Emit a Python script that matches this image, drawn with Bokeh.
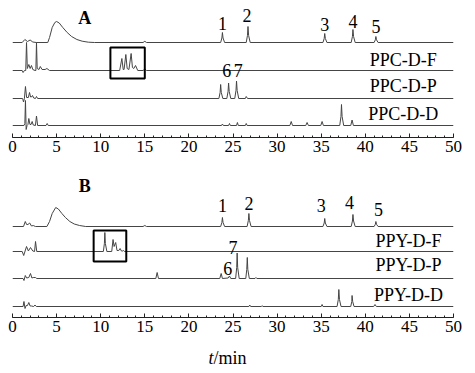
from bokeh.plotting import figure
from bokeh.layouts import column
from bokeh.models import Range1d, FixedTicker
from bokeh.core.properties import value
from bokeh.embed import file_html
from bokeh.resources import INLINE

FONT = "Liberation Serif"
LINE = "#454545"

major_ticks = [0, 5, 10, 15, 20, 25, 30, 35, 40, 45, 50]
minor_ticks = list(range(0, 51))

# ---------------- Panel A (PPC) : retention time (min) / relative signal ----------------
a_std_t = [0, 1.1, 1.4, 1.7, 2.0, 2.3, 2.7, 4.0, 4.2, 4.5, 4.8, 5.0, 5.3, 5.7, 6.2, 6.7, 7.3, 7.9, 8.6, 9.3,
           14.8, 15.0, 15.2, 23.6, 23.74, 23.8, 23.87, 24.05, 26.5, 26.64, 26.7, 26.77, 26.95,
           35.2, 35.34, 35.4, 35.47, 35.65, 38.4, 38.54, 38.6, 38.67, 38.85, 41.0, 41.14, 41.2, 41.27, 41.45, 50]
a_std_y = [0, 0, 3, 1, 2.5, 0.5, 0, 0, 5, 15, 20, 21, 19.5, 15, 10, 6, 3, 1.3, 0.3, 0,
           0, 1.2, 0, 0, 4.5, 10, 4.5, 0, 0, 7, 16, 7, 0,
           0, 4, 9, 4, 0, 0, 6, 13, 6, 0, 0, 2.7, 6, 2.7, 0, 0]

a_f_t = [0, 1.1, 1.2, 1.35, 1.5, 1.59, 1.68, 1.85, 2.0, 2.15, 2.3, 2.55, 2.65, 2.72, 2.8,
         3.0, 3.15, 3.35, 3.7, 3.9, 4.2, 12.15, 12.4, 12.55, 12.65, 12.85, 13.0, 13.2, 13.45, 13.6,
         13.75, 13.95, 14.2, 14.8, 15.0, 15.2, 50]
a_f_y = [0, 0, -2, 0, 0, 28, 2, 6, 2, 5, 1, 0, 0, 28, 2,
         1, 4, 1, 1, 2, 0, 0, 12, 1, 1, 16, 2, 1, 17, 3,
         2, 5, 0, 0, 1.5, 0, 0]

a_p_t = [0, 1.15, 1.25, 1.35, 1.47, 1.6, 1.8, 1.93, 2.05, 2.15, 2.27, 2.4, 2.6, 2.72, 2.85,
         23.4, 23.54, 23.6, 23.67, 23.85, 24.3, 24.44, 24.5, 24.57, 24.75, 25.2, 25.34, 25.4, 25.47, 25.65,
         26.4, 26.5, 26.65, 50]
a_p_y = [0, 0, -3.5, 0, 12, 1, 1, 6, 1.5, 1.5, 3, 0.5, 0, 2, 0,
         0, 6, 14, 6, 0, 0, 7, 15.5, 7, 0, 0, 8, 17.5, 8, 0,
         0, 2, 0, 0]

a_d_t = [0, 1.3, 1.4, 1.47, 1.55, 1.65, 1.75, 1.85, 1.98, 2.1, 2.23, 2.35, 2.6, 2.72, 2.85,
         3.8, 3.93, 4.05, 23.7, 23.8, 23.9, 24.5, 24.6, 24.7, 25.4, 25.5, 25.6, 26.4, 26.5, 26.6,
         31.45, 31.6, 31.75, 33.25, 33.4, 33.55, 34.95, 35.1, 35.25,
         37.1, 37.24, 37.3, 37.37, 37.55, 38.35, 38.5, 38.65, 50]
a_d_y = [0, 0, 2, 25, -4, 0, 1, 7, 1, 1, 4, 0.5, 0, 9.5, 0,
         0, 2, 0, 0, 1.5, 0, 0, 2, 0, 0, 3, 0, 0, 2, 0,
         0, 4, 0, 0, 3, 0, 0, 4, 0,
         0, 9, 21, 9, 0, 0, 5.5, 0, 0]

# ---------------- Panel B (PPY) ----------------
b_std_t = [0, 1.25, 1.45, 1.6, 1.75, 1.95, 2.15, 2.35, 2.6, 3.9, 4.2, 4.5, 4.9, 5.2, 5.6, 6.0, 6.5, 7.0, 7.6, 8.3,
           14.8, 15.0, 15.2, 23.6, 23.74, 23.8, 23.87, 24.05, 26.6, 26.74, 26.8, 26.87, 27.05,
           35.2, 35.34, 35.4, 35.47, 35.65, 38.4, 38.54, 38.6, 38.67, 38.85, 41.0, 41.14, 41.2, 41.27, 41.45, 50]
b_std_y = [0, 0, 5, 2, 2, 3.5, 0.5, 1, 0, 0, 5, 13, 19, 17.5, 13, 9, 5, 2.5, 1, 0,
           0, 1, 0, 0, 4, 9, 4, 0, 0, 6, 13, 6, 0,
           0, 3.5, 8, 3.5, 0, 0, 5.5, 12, 5.5, 0, 0, 2.2, 5, 2.2, 0, 0]

b_f_t = [0, 1.1, 1.27, 1.59, 1.8, 2.04, 2.3, 2.5, 2.61, 2.75,
         10.3, 10.42, 10.47, 10.53, 10.7, 11.25, 11.4, 11.52, 11.7, 11.85, 12.05, 12.2, 12.35, 12.5, 12.6, 12.7, 50]
b_f_y = [0, 0, -4, 5, 0.5, 4, 0.5, 0, 10, 0,
         0, 8, 19, 8, 0, 0, 12, 5, 9, 1, 1, 3, 0.5, 0.5, 1, 0, 0]

b_p_t = [0, 1.2, 1.3, 1.45, 1.6, 1.85, 2.04, 2.2, 2.35, 2.6, 2.75,
         16.25, 16.4, 16.55, 23.5, 23.66, 23.8, 24.45, 24.6, 24.75,
         25.3, 25.42, 25.47, 25.53, 25.7, 26.45, 26.56, 26.62, 26.68, 26.85, 27.5, 27.6, 27.7, 50]
b_p_y = [0, 0, -2, 3, 0.5, 1, 5, 0.5, 1, 1, 0,
         0, 6, 0, 0, 5, 0, 0.5, 2.5, 0,
         0, 11, 25.5, 11, 0, 0, 9, 21, 9, 0, 0, 1, 0, 0]

b_d_t = [0, 1.2, 1.3, 1.42, 1.55, 1.7, 1.85, 2.0, 2.15, 2.4, 2.55, 2.7,
         26.8, 26.9, 27.0, 28.2, 28.3, 28.4, 35.0, 35.1, 35.2,
         36.8, 36.94, 37.0, 37.07, 37.25, 38.35, 38.47, 38.5, 38.57, 38.72, 40.95, 41.1, 41.25, 50]
b_d_y = [0, 0, 5, -2, 1, 1, 4, 0.5, 0.5, 0, 1.5, 0,
         0, 1.5, 0, 0, 0.8, 0, 0, 2, 0,
         0, 7, 17, 7, 0, 0, 5, 11, 5, 0, 0, 2, 0, 0]

a_sample_names = ["PPC-D-F", "PPC-D-P", "PPC-D-D"]
b_sample_names = ["PPY-D-F", "PPY-D-P", "PPY-D-D"]
peak_numbers = ["1", "2", "3", "4", "5", "6", "7"]

x_range = Range1d(0, 50)


def panel(frame_h, bottom_border):
    p = figure(x_range=x_range, y_range=Range1d(0, frame_h),
               frame_width=441, frame_height=frame_h,
               min_border_left=12, min_border_right=10, min_border_top=0,
               min_border_bottom=bottom_border,
               output_backend="svg", toolbar_location=None,
               y_axis_location=None)
    p.grid.visible = False
    p.outline_line_color = None
    p.background_fill_color = None
    p.border_fill_color = None
    ax = p.xaxis[0]
    ax.ticker = FixedTicker(ticks=major_ticks, minor_ticks=minor_ticks)
    ax.axis_line_color = "#222222"
    ax.axis_line_width = 1
    ax.major_tick_in = 4
    ax.major_tick_out = 0
    ax.minor_tick_in = 2
    ax.minor_tick_out = 0
    ax.major_tick_line_color = "#222222"
    ax.minor_tick_line_color = "#222222"
    ax.major_label_text_font = FONT
    ax.major_label_text_font_size = "17px"
    ax.major_label_text_color = "black"
    ax.major_label_standoff = 3
    return p


def draw(p, ts, ys, base):
    p.line(ts, [v + base for v in ys], line_color=LINE, line_width=1)


def txt(p, xs, ys, texts, size="18px", align="center", style="normal"):
    p.text(x=xs, y=ys, text=texts, text_font=value(FONT), text_font_size=size,
           text_align=align, text_baseline="middle", text_color="black",
           text_font_style=style)


# ---- panel A (frame covers page y 0..137) ----
pa = panel(137, 31)
for ts, ys, base in [(a_std_t, a_std_y, 95), (a_f_t, a_f_y, 67), (a_p_t, a_p_y, 39), (a_d_t, a_d_y, 12)]:
    draw(pa, ts, ys, base)
pa.quad(left=[11.1], right=[15.0], bottom=[59], top=[90], fill_color=None,
        line_color="black", line_width=2)
txt(pa, [8.2], [120], ["A"], size="18px", style="bold")
txt(pa, [23.8, 26.6, 35.4, 38.6, 41.2, 24.3, 25.6], [114, 122.5, 113, 116, 111, 67, 67], peak_numbers)
txt(pa, [44.3, 44.3, 44.3], [78, 52, 23.5], a_sample_names)

# ---- panel B (frame covers page y 168..317) ----
pb = panel(149, 24)
for ts, ys, base in [(b_std_t, b_std_y, 91), (b_f_t, b_f_y, 66), (b_p_t, b_p_y, 39), (b_d_t, b_d_y, 11)]:
    draw(pb, ts, ys, base)
pb.quad(left=[9.2], right=[12.9], bottom=[56], top=[87], fill_color=None,
        line_color="black", line_width=2)
txt(pb, [8.2], [132], ["B"], size="18px", style="bold")
txt(pb, [23.8, 26.8, 35.0, 38.2, 41.5, 24.4, 25.0], [112, 114, 112, 115, 108, 49, 70], peak_numbers)
txt(pb, [44.9, 44.9, 44.9], [77, 53, 22.5], b_sample_names)

# ---- axis title ----
pc = figure(x_range=x_range, y_range=Range1d(0, 30), frame_width=441, frame_height=30,
            min_border_left=12, min_border_right=10, min_border_top=0, min_border_bottom=0,
            output_backend="svg", toolbar_location=None,
            x_axis_location=None, y_axis_location=None)
pc.grid.visible = False
pc.outline_line_color = None
pc.text(x=[22.8], y=[14], text=["t"], text_font=value(FONT), text_font_size="18px",
        text_font_style="italic", text_align="right", text_baseline="middle", text_color="black")
pc.text(x=[22.8], y=[14], text=["/min"], text_font=value(FONT), text_font_size="18px",
        text_align="left", text_baseline="middle", text_color="black")

layout = column(pa, pb, pc, spacing=0)
open("out.html", "w").write(file_html(layout, INLINE))
